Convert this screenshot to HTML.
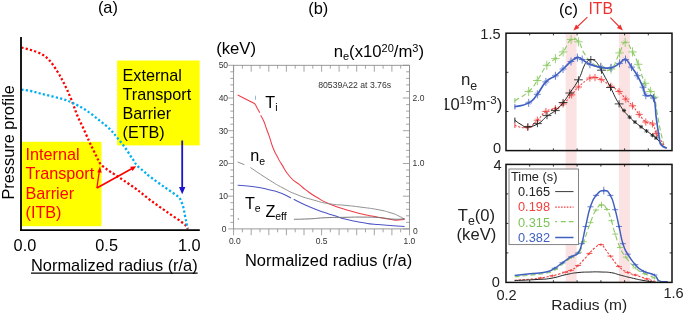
<!DOCTYPE html>
<html><head><meta charset="utf-8"><title>Transport barriers</title>
<style>
html,body{margin:0;padding:0;background:#fff;}
body{width:685px;height:314px;overflow:hidden;font-family:"Liberation Sans",Arial,sans-serif;}
svg{display:block;}
</style></head><body>
<svg width="685" height="314" viewBox="0 0 685 314">
<rect width="685" height="314" fill="#fff"/>
<g id="pa">
<rect x="21.4" y="141.8" width="80.1" height="84.4" fill="#ffff00"/>
<rect x="117.1" y="60.5" width="82.6" height="84.9" fill="#ffff00"/>
<path d="M21.4 47.5 C23 47.9 27.6 48.9 31 50 C34.4 51.1 38.3 52.2 41.5 54 C44.7 55.8 47.4 58.1 50 61 C52.6 63.9 55.3 68.2 57.4 71.5 C59.5 74.8 60.9 77.4 62.5 80.5 C64.1 83.6 65.5 86.3 67.2 90 C68.9 93.7 70.8 98.3 72.5 102.5 C74.2 106.7 75.3 110.8 77.1 115 C78.8 119.2 81 123.2 83 127.5 C85 131.8 87.2 137.1 88.9 140.8 C90.6 144.6 92 147.2 93.3 150 C94.6 152.8 95.8 155.2 97 157.5 C98.2 159.8 98.6 161.7 100.4 163.8 C102.2 165.9 105.2 168.1 107.6 169.9 C110 171.7 112 172.7 114.7 174.5 C117.4 176.3 120.2 178.1 123.9 180.6 C127.6 183.1 132.4 186.2 137 189.6 C141.6 193 146.2 197.1 151.2 200.8 C156.2 204.5 161.6 208.2 167 212 C172.4 215.8 180.4 220.9 183.9 223.7 C187.4 226.5 187.3 228.1 188 229" fill="none" stroke="#ff0000" stroke-width="2.3" stroke-dasharray="2.2 2.2"/>
<path d="M21.4 89.6 C23 89.8 27.6 90.3 31 91 C34.4 91.7 36.5 92.5 41.5 93.8 C46.5 95.1 56 97.2 61.3 98.7 C66.6 100.2 68.9 101.1 73.1 103.1 C77.3 105 81.9 107.5 86.3 110.4 C90.7 113.3 95.5 117.3 99.4 120.4 C103.4 123.5 107.2 126.5 110 129.2 C112.8 131.9 114.1 133.9 116.5 136.8 C118.9 139.7 122.1 143.5 124.4 146.7 C126.7 149.9 128.9 153.4 130.5 155.8 C132.1 158.2 133 159.5 134.1 161.2 C135.2 162.9 135.7 164.2 137.2 165.8 C138.7 167.4 141.2 169.1 143.3 170.9 C145.4 172.7 146.4 173.8 150 176.6 C153.6 179.4 160.3 184.2 165 187.5 C169.7 190.8 175.3 194.1 178 196.5 C180.7 198.9 180.5 199.9 181.4 201.8 C182.3 203.7 182.9 205.8 183.5 208 C184.1 210.2 184.4 213 184.9 215.3 C185.4 217.6 185.9 219.8 186.3 222 C186.7 224.2 187.3 227.4 187.5 228.5" fill="none" stroke="#00b0f0" stroke-width="2.3" stroke-dasharray="2.2 2.2"/>
<path d="M21 37V231" stroke="#000" stroke-width="1.8"/>
<path d="M20.1 230.1H199.8" stroke="#000" stroke-width="1.7"/>
<path d="M96.9 188L133 168" stroke="#ff0000" stroke-width="1.6"/>
<path d="M136.2 166.2L130.2 166.7L132.6 171.1Z" fill="#ff0000"/>
<path d="M96.9 188L99.3 171" stroke="#ff0000" stroke-width="1.3"/>
<path d="M100 166.6L97.4 172.2L101.7 172.8Z" fill="#ff0000"/>
<path d="M182.2 140.5V189" stroke="#1c14c8" stroke-width="1.8"/>
<path d="M182.2 194.2L179 187H185.4Z" fill="#1c14c8"/>
</g>
<g font-family="Liberation Sans, Arial, sans-serif">
<text x="97.9" y="12.5" font-size="16.4">(a)</text>
<text x="308.3" y="14.2" font-size="16.4">(b)</text>
<text x="558.9" y="14.5" font-size="16.4">(c)</text>
<g font-size="16.2" fill="#ff0000"><text x="25.5" y="160">Internal</text><text x="25.5" y="179.4">Transport</text><text x="25.5" y="198.9">Barrier</text><text x="25.5" y="218.4">(ITB)</text></g>
<g font-size="16.2" fill="#000"><text x="122.5" y="80.6">External</text><text x="122.5" y="99.8">Transport</text><text x="122.5" y="119">Barrier</text><text x="122.5" y="138.2">(ETB)</text></g>
<text transform="translate(13.7,199.6) rotate(-90)" font-size="16.35">Pressure profile</text>
<g font-size="16.3"><text x="13.6" y="251.4">0.0</text><text x="95.3" y="251.4">0.5</text><text x="178" y="251.4">1.0</text></g>
<text x="31" y="270.5" font-size="16.4">Normalized radius (r/a)</text>
<path d="M31 273.1H197.6" stroke="#000" stroke-width="1.1"/>
<rect x="233.6" y="65.3" width="175.9" height="163.6" fill="none" stroke="#8e8e8e" stroke-width="0.9"/>
<path d="M233.6 65.3v6.4M233.6 228.9v6.4M242.4 65.3v3.4M242.4 228.9v3.4M251.2 65.3v6.4M251.2 228.9v6.4M260 65.3v3.4M260 228.9v3.4M268.8 65.3v6.4M268.8 228.9v6.4M277.6 65.3v3.4M277.6 228.9v3.4M286.4 65.3v6.4M286.4 228.9v6.4M295.2 65.3v3.4M295.2 228.9v3.4M304 65.3v6.4M304 228.9v6.4M312.8 65.3v3.4M312.8 228.9v3.4M321.6 65.3v6.4M321.6 228.9v6.4M330.3 65.3v3.4M330.3 228.9v3.4M339.1 65.3v6.4M339.1 228.9v6.4M347.9 65.3v3.4M347.9 228.9v3.4M356.7 65.3v6.4M356.7 228.9v6.4M365.5 65.3v3.4M365.5 228.9v3.4M374.3 65.3v6.4M374.3 228.9v6.4M383.1 65.3v3.4M383.1 228.9v3.4M391.9 65.3v6.4M391.9 228.9v6.4M400.7 65.3v3.4M400.7 228.9v3.4M409.5 65.3v6.4M409.5 228.9v6.4M233.6 65.3h-5.4M409.5 65.3h-6.6M233.6 71.8h-3.3M409.5 71.8h-3.4M233.6 78.4h-3.3M409.5 78.4h-3.4M233.6 84.9h-3.3M409.5 84.9h-3.4M233.6 91.5h-3.3M409.5 91.5h-3.4M233.6 98h-5.4M409.5 98h-6.6M233.6 104.6h-3.3M409.5 104.6h-3.4M233.6 111.1h-3.3M409.5 111.1h-3.4M233.6 117.7h-3.3M409.5 117.7h-3.4M233.6 124.2h-3.3M409.5 124.2h-3.4M233.6 130.7h-5.4M409.5 130.7h-6.6M233.6 137.3h-3.3M409.5 137.3h-3.4M233.6 143.8h-3.3M409.5 143.8h-3.4M233.6 150.4h-3.3M409.5 150.4h-3.4M233.6 156.9h-3.3M409.5 156.9h-3.4M233.6 163.5h-5.4M409.5 163.5h-6.6M233.6 170h-3.3M409.5 170h-3.4M233.6 176.5h-3.3M409.5 176.5h-3.4M233.6 183.1h-3.3M409.5 183.1h-3.4M233.6 189.6h-3.3M409.5 189.6h-3.4M233.6 196.2h-5.4M409.5 196.2h-6.6M233.6 202.7h-3.3M409.5 202.7h-3.4M233.6 209.3h-3.3M409.5 209.3h-3.4M233.6 215.8h-3.3M409.5 215.8h-3.4M233.6 222.4h-3.3M409.5 222.4h-3.4M233.6 228.9h-5.4M409.5 228.9h-6.6" stroke="#8e8e8e" stroke-width="0.8" fill="none"/>
<g font-size="8.5" fill="#333">
<text x="228.1" y="68.2" text-anchor="end">50</text>
<text x="228.1" y="100.9" text-anchor="end">40</text>
<text x="228.1" y="133.6" text-anchor="end">30</text>
<text x="228.1" y="166.4" text-anchor="end">20</text>
<text x="228.1" y="199.1" text-anchor="end">10</text>
<text x="226.4" y="231.8" text-anchor="end">0</text>
<text x="412.6" y="101">2.0</text>
<text x="412.6" y="166.4">1.0</text>
<text x="412.9" y="233.9">0</text>
<text x="234.8" y="243.7" text-anchor="middle">0.0</text>
<text x="321.7" y="243.7" text-anchor="middle">0.5</text>
<text x="409.4" y="243.7" text-anchor="middle">1.0</text>
<text x="318.2" y="88.3" font-size="8.7">80539A22 at 3.76s</text>
</g>
<path d="M237.7 95 L246 99.3 L254.4 103.5 L255.6 105 L257.5 108.8 L259.8 112.8" fill="none" stroke="#f03c48" stroke-width="1.05"/>
<path d="M260.7 115.2 C261.6 117 262.1 117.2 263.8 121.3 C265.5 125.3 264.8 124.1 266.5 128.7 C268.2 133.3 267.4 131 269.4 136.7 C271.3 142.4 270.7 142 273 147.8 C275.3 153.6 274.5 151.2 277 156 C279.5 160.8 277.4 157.6 281.4 163.9 C285.4 170.2 284.7 170.7 290.2 177 C295.7 183.3 295.2 181 299.8 184.8 C304.4 188.6 300.3 185.8 305.4 189.6 C310.5 193.3 309.5 193 316.7 197.3 C323.9 201.6 320.7 200.2 329.5 203.9 C338.3 207.6 336.2 206.7 346 209.7 C355.8 212.7 352.4 211.8 362.1 214 C371.8 216.2 368.1 215.3 378.2 217.2 C388.3 219.1 390.5 219.3 395.8 220.2 L404.6 219.4" fill="none" stroke="#f03c48" stroke-width="1.05" stroke-linejoin="round"/>
<path d="M237.7 162 L244.4 164.7" fill="none" stroke="#8a8a8a" stroke-width="0.95"/>
<path d="M250.5 167.6 C256.1 171.3 259.6 173.9 269.3 180 C279.1 186.1 274.6 183.6 283 188 C291.4 192.4 288.2 191.2 297.4 194.8 C306.5 198.4 303.9 197.3 313.5 200 C323.1 202.7 319.8 202.2 329.5 203.8 C339.2 205.4 336.2 204.3 346 205.4 C355.8 206.5 352.4 206 362.1 207.3 C371.8 208.6 369.5 208 378.2 209.7 C386.9 211.4 384.8 211 391 212.9 C397.2 214.8 394.9 214.2 399 216.1 C403.1 218 402.9 218.3 404.6 219.3" fill="none" stroke="#8a8a8a" stroke-width="0.95"/>
<path d="M237.7 185.3 C242.6 185.7 244.4 185.3 254.1 186.7 C263.8 188.1 261.9 188 270.1 190 C278.3 192 275.1 190.9 281.4 193.3 C287.7 195.7 288.1 196.6 291 198" fill="none" stroke="#4d55c4" stroke-width="1.05"/>
<path d="M293.7 199.3 C297.7 201.2 298.2 201.9 307 205.7 C315.8 209.5 315 209.2 323.1 212.1 C331.2 215 327.1 213.3 334 215.5 C340.9 217.7 337.6 217.2 346 219.3 C354.4 221.4 352.4 220.9 362.1 222.5 C371.8 224.1 365.4 223.4 378.2 224.6 C390.9 225.8 396.7 225.9 404.6 226.5" fill="none" stroke="#4d55c4" stroke-width="1.05"/>
<path d="M293.9 219.3 C298.8 219.2 300.6 219.3 310.3 218.8 C320 218.3 315.6 218.1 326.3 217.7 C337 217.2 335.3 217.5 346 217.3 C356.7 217.1 352.4 217 362.1 217.1 C371.8 217.2 368.6 216.9 378.2 217.5 C387.8 218.1 386.3 218.9 394.2 219.2 C402.1 219.5 401.5 218.7 404.6 218.5" fill="none" stroke="#707070" stroke-width="0.95"/>
<circle cx="238.4" cy="218.9" r="0.75" fill="#888"/>
<path d="M255.5 95.7v4.1" stroke="#7aa6dc" stroke-width="0.8"/>
<text x="216.2" y="54.2" font-size="16.7">(keV)</text>
<text x="333.7" y="57" font-size="16.7">n<tspan font-size="11" dy="3.4">e</tspan><tspan dy="-3.4">(x10</tspan><tspan font-size="11" dy="-5.4">20</tspan><tspan dy="5.4">/m</tspan><tspan font-size="11" dy="-5.4">3</tspan><tspan dy="5.4">)</tspan></text>
<text x="265.3" y="108" font-size="16.2">T<tspan font-size="10.5" dy="3.4">i</tspan></text>
<text x="250.3" y="161.2" font-size="16.2">n<tspan font-size="10.5" dy="3.4">e</tspan></text>
<text x="244.9" y="208.9" font-size="16.2">T<tspan font-size="10.5" dy="3.2">e</tspan></text>
<text x="265.4" y="216.9" font-size="16.2">Z<tspan font-size="10.5" dy="3.2">eff</tspan></text>
<text x="245" y="266" font-size="16.45">Normalized radius (r/a)</text>
<rect x="565.6" y="33.2" width="11" height="249.2" fill="#fce3e3"/>
<rect x="618.9" y="33.2" width="11" height="249.2" fill="#fce3e3"/>
<path d="M514.9 100.7 C518.6 98.2 522.7 96.9 528.7 91.5 C534.7 86.1 532.5 87.5 537.3 80.5 C542.1 73.5 542 71.1 546.8 65.3 C551.6 59.5 551.1 62.2 555.4 58.6 C559.7 55 558.9 57 563.1 51.9 C567.3 46.8 567 42.2 571.1 39.5 C575.2 36.8 575 38.2 578.4 41.8 C581.8 45.4 580.6 47.5 584 52.9 C587.4 58.3 586.5 58.2 591 62 C595.5 65.8 595.5 65.3 600.8 67.2 C606.1 69.1 606 72.8 611 69 C616 65.2 615.7 60 619.5 52.9 C623.3 45.8 621.7 42.6 625.2 42.3 C628.7 42 629 46 632.5 51.9 C636 57.8 634.9 55.9 638.2 64.3 C641.5 72.7 641.6 76 644.9 83.3 C648.2 90.6 648.1 87.8 650.6 91.5 C653.1 95.2 652.7 91.7 654.4 97.2 C656.1 102.7 655.5 103.4 657 112 C658.5 120.6 658.9 122.9 660.2 129.6 C661.5 136.3 661 133.2 662 137.3 C663 141.4 663.5 142.9 664 145" fill="none" stroke="#8ac860" stroke-width="1.1" stroke-dasharray="5 3"/>
<path d="M524.5 91.5h8.4M528.7 86.9v9.2M533.1 80.5h8.4M537.3 75.9v9.2M542.6 65.3h8.4M546.8 60.7v9.2M551.2 58.6h8.4M555.4 54v9.2M558.9 51.9h8.4M563.1 47.3v9.2M566.9 39.5h8.4M571.1 34.9v9.2M574.2 41.8h8.4M578.4 37.2v9.2M596.6 67.2h8.4M600.8 62.6v9.2M606.8 69h8.4M611 64.4v9.2M615.3 52.9h8.4M619.5 48.3v9.2M621 42.3h8.4M625.2 37.7v9.2M628.3 51.9h8.4M632.5 47.3v9.2M634 64.3h8.4M638.2 59.7v9.2M640.7 83.3h8.4M644.9 78.7v9.2M646.4 91.5h8.4M650.6 86.9v9.2M650.2 97.2h8.4M654.4 92.6v9.2" stroke="#8ac860" stroke-width="0.85" fill="none"/><path d="M526.8 89.6l3.8 3.8M526.8 93.4l3.8 -3.8M535.4 78.6l3.8 3.8M535.4 82.4l3.8 -3.8M544.9 63.4l3.8 3.8M544.9 67.2l3.8 -3.8M553.5 56.7l3.8 3.8M553.5 60.5l3.8 -3.8M561.2 50l3.8 3.8M561.2 53.8l3.8 -3.8M569.2 37.6l3.8 3.8M569.2 41.4l3.8 -3.8M576.5 39.9l3.8 3.8M576.5 43.7l3.8 -3.8M598.9 65.3l3.8 3.8M598.9 69.1l3.8 -3.8M609.1 67.1l3.8 3.8M609.1 70.9l3.8 -3.8M617.6 51l3.8 3.8M617.6 54.8l3.8 -3.8M623.3 40.4l3.8 3.8M623.3 44.2l3.8 -3.8M630.6 50l3.8 3.8M630.6 53.8l3.8 -3.8M636.3 62.4l3.8 3.8M636.3 66.2l3.8 -3.8M643 81.4l3.8 3.8M643 85.2l3.8 -3.8M648.7 89.6l3.8 3.8M648.7 93.4l3.8 -3.8M652.5 95.3l3.8 3.8M652.5 99.1l3.8 -3.8" stroke="#8ac860" stroke-width="0.85" fill="none" opacity="0.5"/>
<path d="M514.9 98.1v5.2" stroke="#8ac860" stroke-width="1.0" fill="none"/>
<path d="M514.9 125.5 C518.3 126 521.7 128.8 527.7 127.4 C533.7 126 532.4 124.4 537.3 120.2 C542.2 116 541.1 114.6 545.9 111.5 C550.7 108.4 550.8 110.7 555.4 108.7 C560 106.7 558.8 107.6 563.1 103.9 C567.4 100.2 567.6 99.4 571.7 94.9 C575.8 90.4 573.5 91.5 578.4 87 C583.3 82.5 585.5 80.6 589.9 78.1 C594.3 75.6 592 77.1 595 77.5 C598 77.9 597.1 77.3 601.3 79.6 C605.5 81.9 606.2 83 610.9 86.2 C615.6 89.4 615.1 88.1 619.1 91.5 C623.1 94.9 622.2 95.3 625.8 99.1 C629.4 102.9 628.9 101.7 632.5 105.8 C636.1 109.9 635.7 110.1 639.2 114.4 C642.7 118.7 642.3 119.5 645.8 122 C649.3 124.5 649.7 120.9 652.5 123.9 C655.3 126.9 654.3 129.4 656.3 133.4 C658.3 137.4 657.7 135.4 660 139 C662.3 142.6 663.7 144.9 665 147" fill="none" stroke="#f04040" stroke-width="1.1" stroke-dasharray="2 1.6"/>
<path d="M524.1 127.4h7.2M527.7 123.8v7.2M533.7 120.2h7.2M537.3 116.6v7.2M542.3 111.5h7.2M545.9 107.9v7.2M551.8 108.7h7.2M555.4 105.1v7.2M559.5 103.9h7.2M563.1 100.3v7.2M568.1 94.9h7.2M571.7 91.3v7.2M574.8 87h7.2M578.4 83.4v7.2M586.3 78.1h7.2M589.9 74.5v7.2M591.4 77.5h7.2M595 73.9v7.2M597.7 79.6h7.2M601.3 76v7.2M607.3 86.2h7.2M610.9 82.6v7.2M615.5 91.5h7.2M619.1 87.9v7.2M622.2 99.1h7.2M625.8 95.5v7.2M628.9 105.8h7.2M632.5 102.2v7.2M635.6 114.4h7.2M639.2 110.8v7.2M642.2 122h7.2M645.8 118.4v7.2M648.9 123.9h7.2M652.5 120.3v7.2M652.7 133.4h7.2M656.3 129.8v7.2" stroke="#f04040" stroke-width="0.85" fill="none"/><path d="M525.8 125.5l3.8 3.8M525.8 129.3l3.8 -3.8M535.4 118.3l3.8 3.8M535.4 122.1l3.8 -3.8M544 109.6l3.8 3.8M544 113.4l3.8 -3.8M553.5 106.8l3.8 3.8M553.5 110.6l3.8 -3.8M561.2 102l3.8 3.8M561.2 105.8l3.8 -3.8M569.8 93l3.8 3.8M569.8 96.8l3.8 -3.8M576.5 85.1l3.8 3.8M576.5 88.9l3.8 -3.8M588 76.2l3.8 3.8M588 80l3.8 -3.8M593.1 75.6l3.8 3.8M593.1 79.4l3.8 -3.8M599.4 77.7l3.8 3.8M599.4 81.5l3.8 -3.8M609 84.3l3.8 3.8M609 88.1l3.8 -3.8M617.2 89.6l3.8 3.8M617.2 93.4l3.8 -3.8M623.9 97.2l3.8 3.8M623.9 101l3.8 -3.8M630.6 103.9l3.8 3.8M630.6 107.7l3.8 -3.8M637.3 112.5l3.8 3.8M637.3 116.3l3.8 -3.8M643.9 120.1l3.8 3.8M643.9 123.9l3.8 -3.8M650.6 122l3.8 3.8M650.6 125.8l3.8 -3.8M654.4 131.5l3.8 3.8M654.4 135.3l3.8 -3.8" stroke="#f04040" stroke-width="0.85" fill="none" opacity="0.5"/>
<path d="M514.9 122.9v5.2" stroke="#f04040" stroke-width="1.0" fill="none"/>
<path d="M514.9 120.2 C516.5 121.3 517.6 122.7 521 124.5 C524.4 126.3 523.1 127 527.7 126.8 C532.3 126.6 533.1 126.4 538.2 123.6 C543.3 120.8 542.2 119.8 546.8 116.3 C551.4 112.8 551.1 114.2 555.4 110.5 C559.7 106.8 559.3 107.2 563.1 102.5 C566.9 97.8 565.7 99.1 569.8 93 C573.9 86.9 574.6 86.9 578.4 79.8 C582.2 72.7 581.7 71.1 584 66.2 C586.3 61.3 585.4 63.4 587.2 61.6 C589 59.8 588.9 59.9 590.8 59.6 C592.7 59.3 592.6 59.5 594.4 60.6 C596.2 61.7 595.4 60.6 597.5 63.6 C599.6 66.6 598.8 65.6 602.3 72 C605.8 78.4 606 79 610.5 87.5 C615 96 614 96 619.1 103.9 C624.2 111.8 623.8 111.1 629.6 117.2 C635.4 123.3 634.9 122 641 126.8 C647.1 131.6 648.2 132 652.5 135.3 C656.8 138.6 653.9 135.9 657 139 C660.1 142.1 662.1 144.9 664 147" fill="none" stroke="#222" stroke-width="1"/>
<path d="M523.5 126.8h8.8M527.9 123.2v7.2M533 123.6h8.8M537.4 120v7.2M542.6 115.6h8.8M547 112v7.2M550.9 110.6h8.8M555.3 107v7.2M558.7 102.5h8.8M563.1 98.9v7.2M565.4 93h8.8M569.8 89.4v7.2M574 79.8h8.8M578.4 76.2v7.2M586.4 59.6h8.8M590.8 56v7.2M597.1 70.2h8.8M601.5 66.6v7.2M606.1 87.5h8.8M610.5 83.9v7.2M614.7 103.9h8.8M619.1 100.3v7.2" stroke="#222" stroke-width="0.85" fill="none"/>
<path d="M622 110.5h4M624 108.5v4M627.6 117.2h4M629.6 115.2v4M633 122h4M635 120v4M639 126.8h4M641 124.8v4M644.5 131h4M646.5 129v4M650.5 135.3h4M652.5 133.3v4M654 138h4M656 136v4" stroke="#222" stroke-width="0.85" fill="none"/><path d="M622.5 109l3 3M622.5 112l3 -3M628.1 115.7l3 3M628.1 118.7l3 -3M633.5 120.5l3 3M633.5 123.5l3 -3M639.5 125.3l3 3M639.5 128.3l3 -3M645 129.5l3 3M645 132.5l3 -3M651 133.8l3 3M651 136.8l3 -3M654.5 136.5l3 3M654.5 139.5l3 -3" stroke="#222" stroke-width="0.85" fill="none" opacity="0.9"/>
<path d="M514.9 117.6v5.2" stroke="#222" stroke-width="1.0" fill="none"/>
<path d="M514.9 106.8 C518.6 105.8 522.7 106.2 528.7 102.9 C534.7 99.6 532.7 99.9 537.3 94.3 C541.9 88.7 541.1 86.8 545.9 81.9 C550.7 77 550.8 79.2 555.4 75.8 C560 72.4 558.8 72.8 563 69 C567.2 65.2 567.2 64.5 571 61.5 C574.8 58.5 574.4 58.1 577.4 57.6 C580.4 57.1 578.9 57.7 582.2 59.5 C585.5 61.3 584.9 62.2 589.9 64.3 C594.9 66.4 595.2 66.3 600.8 67.2 C606.4 68.1 606 68.8 611 67.8 C616 66.8 615.6 65.6 619.5 63.4 C623.4 61.2 622.3 58.5 625.5 59.5 C628.7 60.5 628.4 62.8 631.5 67.1 C634.6 71.4 634.2 70.3 637.3 75.7 C640.4 81.1 640.7 82 643 87.2 C645.3 92.4 643 92.4 645.8 95.3 C648.6 98.2 650.7 92 653.5 98.1 C656.3 104.2 654.8 107.7 656.3 118.2 C657.8 128.7 657.9 130.2 659.2 137.3 C660.5 144.4 659.1 141.9 661.1 144.8 C663.1 147.7 665.3 147.3 666.8 148.2" fill="none" stroke="#4060c0" stroke-width="1.65"/>
<path d="M525.3 102.9h6.8M528.7 98.9v8M533.9 94.3h6.8M537.3 90.3v8M542.5 81.9h6.8M545.9 77.9v8M552 75.8h6.8M555.4 71.8v8M559.6 69h6.8M563 65v8M567.6 61.5h6.8M571 57.5v8M574 57.6h6.8M577.4 53.6v8M578.8 59.5h6.8M582.2 55.5v8M586.5 64.3h6.8M589.9 60.3v8M597.4 67.2h6.8M600.8 63.2v8M607.6 67.8h6.8M611 63.8v8M616.1 63.4h6.8M619.5 59.4v8M622.1 59.5h6.8M625.5 55.5v8M628.1 67.1h6.8M631.5 63.1v8M633.9 75.7h6.8M637.3 71.7v8M639.6 87.2h6.8M643 83.2v8M642.4 95.3h6.8M645.8 91.3v8M650.1 98.1h6.8M653.5 94.1v8" stroke="#4060c0" stroke-width="0.8" fill="none"/><path d="M526.8 101l3.8 3.8M526.8 104.8l3.8 -3.8M535.4 92.4l3.8 3.8M535.4 96.2l3.8 -3.8M544 80l3.8 3.8M544 83.8l3.8 -3.8M553.5 73.9l3.8 3.8M553.5 77.7l3.8 -3.8M561.1 67.1l3.8 3.8M561.1 70.9l3.8 -3.8M569.1 59.6l3.8 3.8M569.1 63.4l3.8 -3.8M575.5 55.7l3.8 3.8M575.5 59.5l3.8 -3.8M580.3 57.6l3.8 3.8M580.3 61.4l3.8 -3.8M588 62.4l3.8 3.8M588 66.2l3.8 -3.8M598.9 65.3l3.8 3.8M598.9 69.1l3.8 -3.8M609.1 65.9l3.8 3.8M609.1 69.7l3.8 -3.8M617.6 61.5l3.8 3.8M617.6 65.3l3.8 -3.8M623.6 57.6l3.8 3.8M623.6 61.4l3.8 -3.8M629.6 65.2l3.8 3.8M629.6 69l3.8 -3.8M635.4 73.8l3.8 3.8M635.4 77.6l3.8 -3.8M641.1 85.3l3.8 3.8M641.1 89.1l3.8 -3.8M643.9 93.4l3.8 3.8M643.9 97.2l3.8 -3.8M651.6 96.2l3.8 3.8M651.6 100l3.8 -3.8" stroke="#4060c0" stroke-width="0.8" fill="none" opacity="0.5"/>
<path d="M514.9 104.2v5.2" stroke="#4060c0" stroke-width="1.0" fill="none"/>
<path d="M514.6 276.8 C518.7 276.4 521.6 276.2 530 275.2 C538.4 274.2 539.4 274.7 546.1 273.2 C552.8 271.7 548.3 273.7 555 269.5 C561.7 265.3 564.9 262 571.3 257.4 C577.7 252.8 575.6 256.5 578.9 252.3 C582.2 248.1 580.6 249.7 583.7 241.8 C586.8 233.9 587.1 231.1 590.4 222.6 C593.7 214.1 593 214.7 596 210 C599 205.3 598.6 205.1 601.5 205 C604.4 204.9 604.4 205.3 607 209.5 C609.6 213.7 609.2 214.1 611.4 220.7 C613.6 227.3 612.9 227 615.2 234.1 C617.5 241.2 617.2 241.4 620 247.5 C622.8 253.6 621.6 251.7 625.7 257.1 C629.8 262.5 630.2 263.4 635.3 267.9 C640.4 272.4 639.8 271.1 644.9 273.8 C650 276.5 650.9 275.8 654.4 277.9 C657.9 280 657.2 280.7 658.2 281.7" fill="none" stroke="#8ac860" stroke-width="1.1" stroke-dasharray="5 3"/>
<path d="M552 269.5h6M555 267.9v3.2M568.3 257.4h6M571.3 255.8v3.2M575.9 252.3h6M578.9 250.7v3.2M580.7 241.8h6M583.7 240.2v3.2M587.4 222.6h6M590.4 221v3.2M593 210h6M596 208.4v3.2M598.5 205h6M601.5 203.4v3.2M604 209.5h6M607 207.9v3.2M608.4 220.7h6M611.4 219.1v3.2M612.2 234.1h6M615.2 232.5v3.2M617 247.5h6M620 245.9v3.2M622.7 257.1h6M625.7 255.5v3.2M632.3 267.9h6M635.3 266.3v3.2M641.9 273.8h6M644.9 272.2v3.2M651.4 277.9h6M654.4 276.3v3.2" stroke="#8ac860" stroke-width="0.85" fill="none"/>
<path d="M598.9 205h5.2M601.5 201.8v6.4" stroke="#8ac860" stroke-width="0.85" fill="none"/>
<path d="M514.6 280.3 C518.7 280 523 279.8 530 279.2 C537 278.6 534.9 278.9 540.8 278 C546.7 277.1 547.6 276.8 552.3 275.8 C557 274.8 555.1 275.2 558.5 274.2 C561.9 273.2 561.9 273.2 565.2 272.2 C568.5 271.2 567.5 272.2 570.9 270.4 C574.3 268.6 574.7 268.3 578.1 265.5 C581.5 262.7 580.5 263.2 583.5 260 C586.5 256.8 586.3 256.7 589.4 253.4 C592.5 250.1 591.9 250.1 595 247.8 C598.1 245.5 598.1 244.1 600.9 244.6 C603.7 245.1 603 246.4 605.5 249.5 C608 252.6 606.8 251.5 610.4 256.1 C614 260.7 614.4 262.3 619 266.6 C623.6 270.9 623.4 270.2 627.7 272.4 C632 274.6 630.2 273.3 635.3 275 C640.4 276.7 641.2 277.1 646.8 278.9 C652.4 280.7 653.8 281 656.3 281.7" fill="none" stroke="#f04040" stroke-width="1.1" stroke-dasharray="2.4 1.6"/>
<path d="M537.8 278h6M540.8 276.7v2.6M549.3 275.8h6M552.3 274.5v2.6M562.2 272.2h6M565.2 270.9v2.6M567.9 270.4h6M570.9 269.1v2.6M575.1 265.5h6M578.1 264.2v2.6M586.4 253.4h6M589.4 252.1v2.6M597.9 244.6h6M600.9 243.3v2.6M607.4 256.1h6M610.4 254.8v2.6M616 266.6h6M619 265.3v2.6M624.7 272.4h6M627.7 271.1v2.6M632.3 275h6M635.3 273.7v2.6M643.8 278.9h6M646.8 277.6v2.6" stroke="#f04040" stroke-width="0.85" fill="none"/>
<path d="M514.6 280.6 C520 280.3 525.3 280.2 535 279.6 C544.7 279 542.6 279.7 551 278.3 C559.4 276.9 559.3 276 566.5 274.5 C573.7 273 571.5 273.3 577.9 272.6 C584.3 271.9 584.3 272.2 590.4 272 C596.5 271.8 595.3 271.8 600.9 272 C606.5 272.2 606.3 271.9 611.4 272.7 C616.5 273.5 614.6 273.6 620 275 C625.4 276.4 625.4 276.5 631.5 277.9 C637.6 279.3 636.9 279.3 643 280.4 C649.1 281.5 651.4 281.6 654.4 282" fill="none" stroke="#222" stroke-width="1"/>
<path d="M514.6 275.4 C518.7 275 521.6 274.7 530 273.8 C538.4 272.9 539.5 273.5 546.1 272 C552.7 270.5 550.4 270.7 554.7 268.2 C559 265.7 558 265.9 562.4 262.8 C566.8 259.7 567.2 259.3 571.3 256.7 C575.4 254.1 575.1 256.7 577.9 253.2 C580.7 249.7 579.7 250.8 581.8 243.7 C583.9 236.6 583.3 236.3 585.6 226.5 C587.9 216.7 587.6 215.1 590.4 206.8 C593.2 198.5 592.5 199.7 596.1 195.4 C599.7 191.1 600 190.6 603.8 190.6 C607.6 190.6 607.4 190.3 610.4 195.4 C613.4 200.5 612.9 201.4 615.2 209.7 C617.5 218 616.9 217.4 619 226.5 C621.1 235.6 620.6 236.3 622.9 243.7 C625.2 251.1 624.4 248.6 627.7 254.2 C631 259.8 631.1 260.1 635.3 264.7 C639.5 269.3 638.4 268.6 643.5 271.3 C648.6 274 650.2 272.5 654.4 275 C658.6 277.5 655.6 279 659.2 280.8 C662.8 282.6 665.5 281.5 667.8 281.7" fill="none" stroke="#4060c0" stroke-width="1.45"/>
<path d="M551.7 268.2h6M554.7 266.8v2.8M559.4 262.8h6M562.4 261.4v2.8M568.3 256.7h6M571.3 255.3v2.8M574.9 253.2h6M577.9 251.8v2.8M578.8 243.7h6M581.8 242.3v2.8M582.6 226.5h6M585.6 225.1v2.8M587.4 206.8h6M590.4 205.4v2.8M593.1 195.4h6M596.1 194v2.8M600.8 190.6h6M603.8 189.2v2.8M607.4 195.4h6M610.4 194v2.8M612.2 209.7h6M615.2 208.3v2.8M616 226.5h6M619 225.1v2.8M619.9 243.7h6M622.9 242.3v2.8M624.7 254.2h6M627.7 252.8v2.8M632.3 264.7h6M635.3 263.3v2.8M640.5 271.3h6M643.5 269.9v2.8M651.4 275h6M654.4 273.6v2.8" stroke="#4060c0" stroke-width="0.8" fill="none"/>
<path d="M601.4 190.6h4.8M603.8 186.8v7.6" stroke="#4060c0" stroke-width="0.8" fill="none"/>
<path d="M529.7 33.2v2.2M529.7 150.6v-2.2M553.4 33.2v2.2M553.4 150.6v-2.2M577.1 33.2v2.2M577.1 150.6v-2.2M600.9 33.2v2.2M600.9 150.6v-2.2M624.6 33.2v2.2M624.6 150.6v-2.2M648.3 33.2v2.2M648.3 150.6v-2.2M529.7 164.4v2.2M529.7 282.4v-2.2M553.4 164.4v2.2M553.4 282.4v-2.2M577.1 164.4v2.2M577.1 282.4v-2.2M600.9 164.4v2.2M600.9 282.4v-2.2M624.6 164.4v2.2M624.6 282.4v-2.2M648.3 164.4v2.2M648.3 282.4v-2.2M506.0 72.3h2.4M672.0 72.3h-2.4M506.0 111.5h2.4M672.0 111.5h-2.4M506.0 193.9h2.4M672.0 193.9h-2.4M506.0 223.4h2.4M672.0 223.4h-2.4M506.0 252.9h2.4M672.0 252.9h-2.4" stroke="#222" stroke-width="0.9" fill="none"/>
<rect x="506.0" y="33.2" width="166.0" height="117.39999999999999" fill="none" stroke="#111" stroke-width="1.5"/>
<rect x="506.0" y="164.4" width="166.0" height="117.99999999999997" fill="none" stroke="#111" stroke-width="1.5"/>
<rect x="509" y="169" width="69.5" height="75.6" fill="#fff" stroke="#777" stroke-width="0.9"/>
<g font-size="12.8">
<text x="511" y="180.6" fill="#222">Time (s)</text>
<text x="518" y="196.2" fill="#222">0.165</text>
<text x="518" y="211.2" fill="#f04040">0.198</text>
<text x="518" y="226.6" fill="#7cc458">0.315</text>
<text x="518" y="242.2" fill="#4060c0">0.382</text>
</g>
<path d="M555.2 191.6H573.5" stroke="#222" stroke-width="0.9"/>
<path d="M555.2 207.1H573.5" stroke="#f04040" stroke-width="1.1" stroke-dasharray="1.6 1.3"/>
<path d="M555.2 221.6H573.5" stroke="#8ac860" stroke-width="1.1" stroke-dasharray="2 3.6 5 3 5 3"/>
<path d="M555.2 237.5H573.5" stroke="#4060c0" stroke-width="1.5"/>
<g font-size="14.6" fill="#222">
<text x="500.6" y="38.9" text-anchor="end">1.5</text>
<text x="501.2" y="153" text-anchor="end">0</text>
<text x="501.6" y="170" text-anchor="end">4</text>
<text x="499.8" y="286.9" text-anchor="end">0</text>
<text x="496.4" y="299.6">0.2</text>
<text x="663.4" y="298.4">1.6</text>
</g>
<clipPath id="cropc"><rect x="444.8" y="90" width="70" height="30"/></clipPath>
<g font-size="16.6" fill="#222">
<text x="461" y="85.4" font-size="16.8">n<tspan font-size="12.4" dy="5">e</tspan></text>
<text x="502.2" y="110.4" text-anchor="end" clip-path="url(#cropc)">(10<tspan font-size="11.6" dy="-6.2">19</tspan><tspan dy="6.2">m</tspan><tspan font-size="11.6" dy="-6.2">-3</tspan><tspan dy="6.2">)</tspan></text>
<text x="457.8" y="220.8">T<tspan font-size="12.4" dy="4.6">e</tspan><tspan dy="-4.6">(0)</tspan></text>
<text x="456.6" y="240.4">(keV)</text>
<text x="551.3" y="309.5" font-size="15.5">Radius (m)</text>
</g>
<text x="588.4" y="14.3" font-size="15.8" fill="#ee3030">ITB</text>
<path d="M587.4 17.1L576 28M610.4 17.7L620.5 28" stroke="#ee3030" stroke-width="1.1" fill="none"/>
<path d="M573.4 30.5L576 24.6L579.4 28.1ZM622.9 30.5L617 27.9L620.4 24.5Z" fill="#ee3030"/>
</g>
</svg>
</body></html>
